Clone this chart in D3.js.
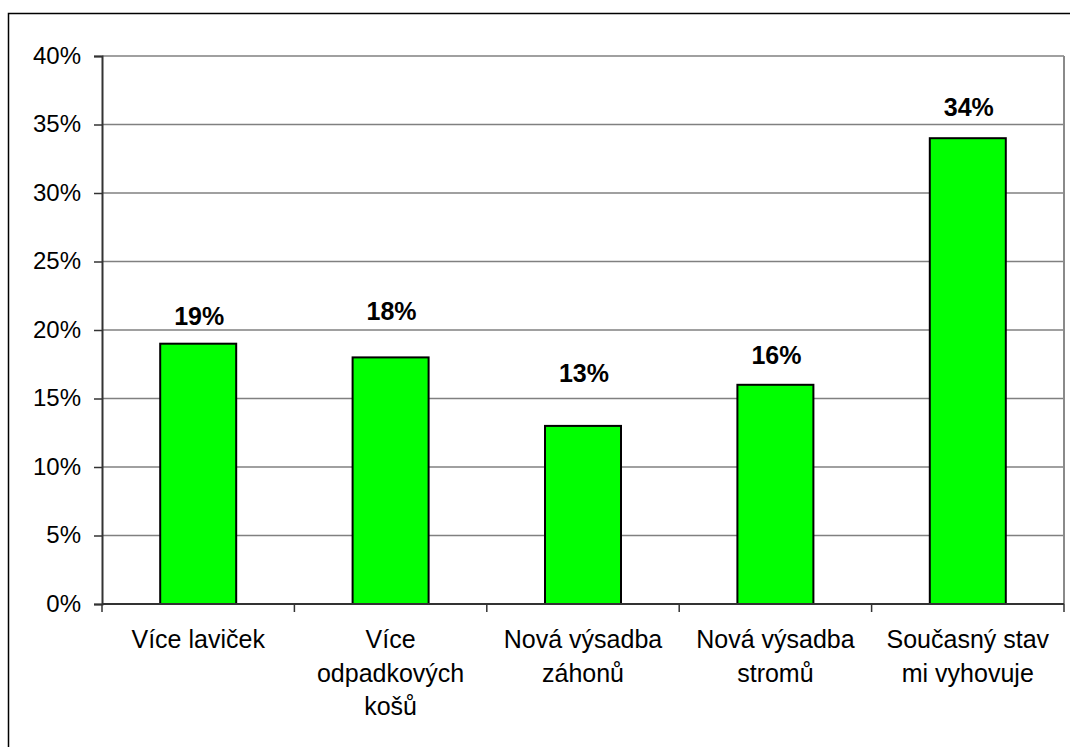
<!DOCTYPE html>
<html>
<head>
<meta charset="utf-8">
<script src="https://cdn.jsdelivr.net/npm/d3@7"></script>
<style>
  html, body { margin: 0; padding: 0; background: #fff; }
  svg { display: block; font-family: Arial, "Liberation Sans", sans-serif; }
</style>
</head>
<body>
<svg id="chart" width="1070" height="747"></svg>
<script>
// ---- data ----
const categories = ["Více laviček", "Více odpadkových košů", "Nová výsadba záhonů", "Nová výsadba stromů", "Současný stav mi vyhovuje"];
const categoryLines = [["Více laviček"], ["Více", "odpadkových", "košů"], ["Nová výsadba", "záhonů"], ["Nová výsadba", "stromů"], ["Současný stav", "mi vyhovuje"]];
const values = [19, 18, 13, 16, 34];
const labelPos = [20.4, 20.7, 16.2, 17.5, 35.6]; // where each value label sits (in % units)
const yTicks = [0, 5, 10, 15, 20, 25, 30, 35, 40];

// ---- layout ----
const svg = d3.select("#chart");
const pLeft = 102, pRight = 1064, pTop = 56, pBottom = 604;

const x = d3.scaleBand().domain(categories).range([pLeft, pRight]).paddingInner(0.605).paddingOuter(0.3025);
const xb = d3.scaleBand().domain(categories).range([pLeft, pRight]);
const y = d3.scaleLinear().domain([0, 40]).range([pBottom, pTop]);

// outer frame
svg.append("rect").attr("x", 8.5).attr("y", 13.5).attr("width", 1075).attr("height", 745)
  .attr("fill", "#fff").attr("stroke", "#000").attr("stroke-width", 1.5);

// gridlines
svg.append("g").selectAll("line").data(yTicks.filter(d => d > 0)).join("line")
  .attr("x1", pLeft).attr("x2", pRight)
  .attr("y1", d => y(d)).attr("y2", d => y(d))
  .attr("stroke", "#808080").attr("stroke-width", 1.5);

// right plot border
svg.append("line").attr("x1", pRight).attr("x2", pRight).attr("y1", pTop).attr("y2", pBottom)
  .attr("stroke", "#8a8a8a").attr("stroke-width", 2);

// bars
svg.append("g").selectAll("rect").data(values).join("rect")
  .attr("x", (d, i) => x(categories[i]))
  .attr("width", x.bandwidth())
  .attr("y", d => y(d))
  .attr("height", d => y(0) - y(d))
  .attr("fill", "#00ff00").attr("stroke", "#000").attr("stroke-width", 2);

// y axis
const yAxis = d3.axisLeft(y).tickValues(yTicks).tickFormat(d => d + "%").tickSize(8).tickPadding(13);
const gy = svg.append("g").attr("transform", `translate(${pLeft},0)`).call(yAxis);
gy.select(".domain").attr("stroke", "#333").attr("stroke-width", 2);
gy.selectAll(".tick line").attr("stroke", "#333").attr("stroke-width", 1.5);
gy.selectAll(".tick text").attr("font-size", 24).attr("fill", "#000")
  .attr("font-family", "Arial, 'Liberation Sans', sans-serif").attr("dy", "0.3em");

// x axis line + ticks at category boundaries
const boundaries = categories.map(c => xb(c)).concat([pRight]);
svg.append("line").attr("x1", pLeft).attr("x2", pRight).attr("y1", pBottom).attr("y2", pBottom)
  .attr("stroke", "#333").attr("stroke-width", 2);
svg.append("g").selectAll("line").data(boundaries).join("line")
  .attr("x1", d => d).attr("x2", d => d).attr("y1", pBottom).attr("y2", pBottom + 8)
  .attr("stroke", "#333").attr("stroke-width", 1.5);

// category labels
const xl = svg.append("g").selectAll("text").data(categories).join("text")
  .attr("x", d => xb(d) + xb.bandwidth() / 2)
  .attr("y", 648)
  .attr("text-anchor", "middle")
  .attr("font-size", 25).attr("fill", "#000");
xl.each(function(d, i) {
  d3.select(this).selectAll("tspan").data(categoryLines[i]).join("tspan")
    .attr("x", xb(d) + xb.bandwidth() / 2)
    .attr("dy", (t, j) => j === 0 ? 0 : 33.5)
    .text(t => t);
});

// value labels
svg.append("g").selectAll("text").data(values).join("text")
  .attr("x", (d, i) => xb(categories[i]) + xb.bandwidth() / 2 + 1)
  .attr("y", (d, i) => y(labelPos[i]))
  .attr("text-anchor", "middle")
  .attr("font-size", 25).attr("font-weight", "bold").attr("fill", "#000")
  .text(d => d + "%");
</script>
</body>
</html>
